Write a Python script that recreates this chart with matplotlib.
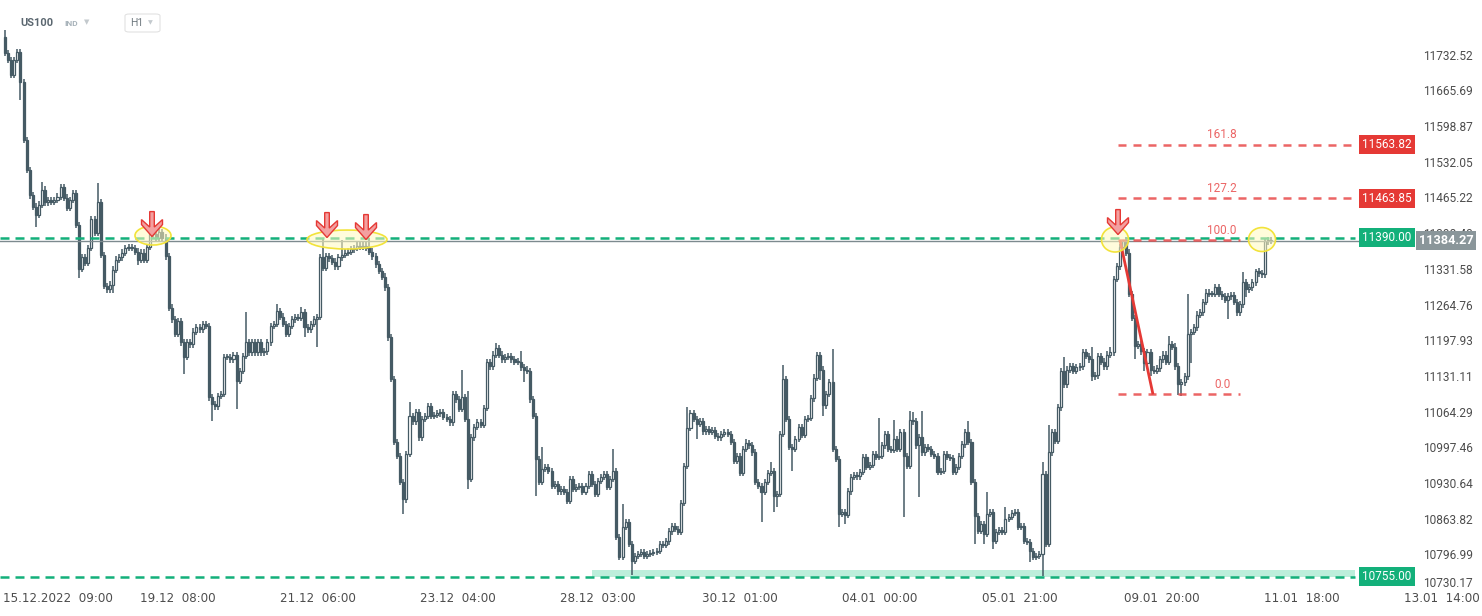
import numpy as np
import matplotlib
matplotlib.use('Agg')
import matplotlib.pyplot as plt
import matplotlib.transforms as mtransforms
from matplotlib.patches import Ellipse, Polygon, Rectangle, FancyBboxPatch

plt.rcParams['font.family'] = ['Roboto', 'DejaVu Sans']

# ---- data (US100, H1) -------------------------------------------------
first_open = 11766
closes = [
    11736, 11723, 11695, 11723, 11738, 11682, 11573, 11517, 11469, 11448,
    11433, 11452, 11480, 11456, 11461, 11457, 11461, 11467, 11485, 11465,
    11446, 11461, 11474, 11414, 11332, 11353, 11343, 11371, 11424, 11399,
    11457, 11358, 11299, 11293, 11302, 11330, 11349, 11353, 11362, 11371,
    11373, 11371, 11364, 11349, 11362, 11349, 11373, 11399, 11396, 11390,
    11401, 11390, 11355, 11259, 11237, 11209, 11233, 11194, 11166, 11194,
    11190, 11214, 11222, 11218, 11228, 11224, 11091, 11078, 11074, 11093,
    11097, 11166, 11166, 11162, 11170, 11121, 11140, 11168, 11194, 11175,
    11194, 11175, 11194, 11175, 11177, 11194, 11224, 11228, 11252, 11242,
    11228, 11209, 11224, 11237, 11241, 11239, 11250, 11222, 11218, 11228,
    11237, 11241, 11353, 11334, 11355, 11351, 11345, 11336, 11353, 11358,
    11362, 11364, 11368, 11371, 11375, 11373, 11375, 11371, 11364, 11355,
    11340, 11327, 11317, 11297, 11203, 11125, 11007, 10981, 10932, 10900,
    10985, 11056, 11046, 11063, 11016, 11050, 11056, 11074, 11056, 11058,
    11061, 11063, 11054, 11050, 11044, 11097, 11087, 11069, 11091, 11050,
    10938, 11016, 11035, 11044, 11039, 11071, 11157, 11149, 11171, 11183,
    11171, 11162, 11166, 11168, 11162, 11158, 11157, 11147, 11143, 11140,
    11087, 11056, 10975, 10932, 10957, 10960, 10953, 10925, 10929, 10915,
    10919, 10914, 10897, 10938, 10919, 10923, 10925, 10914, 10925, 10947,
    10929, 10910, 10934, 10942, 10947, 10923, 10938, 10953, 10829, 10792,
    10848, 10857, 10816, 10785, 10794, 10798, 10801, 10794, 10798, 10800,
    10801, 10803, 10816, 10814, 10821, 10840, 10850, 10844, 10839, 10893,
    10962, 11033, 11061, 11050, 11041, 11046, 11027, 11031, 11026, 11029,
    11018, 11016, 11022, 11026, 11022, 11007, 10972, 10981, 10949, 10994,
    11005, 11001, 10988, 10932, 10925, 10914, 10932, 10949, 10953, 10906,
    10910, 11022, 11125, 11050, 10998, 10994, 11013, 11035, 11020, 11050,
    11052, 11089, 11128, 11170, 11143, 11076, 11097, 11119, 10994, 10975,
    10872, 10876, 10871, 10915, 10942, 10945, 10943, 10951, 10979, 10960,
    10964, 10985, 10979, 10981, 11001, 11022, 10994, 10992, 11013, 10994,
    11026, 10981, 10962, 11048, 11046, 11001, 11016, 10988, 10998, 10994,
    10985, 10981, 10951, 10953, 10985, 10979, 10977, 10951, 10960, 10981,
    11003, 11026, 11007, 10932, 10869, 10841, 10854, 10835, 10872, 10876,
    10822, 10839, 10843, 10839, 10863, 10867, 10874, 10876, 10848, 10850,
    10822, 10820, 10803, 10792, 10794, 10798, 10947, 10816, 10988, 11026,
    11009, 11072, 11140, 11115, 11143, 11149, 11140, 11147, 11149, 11175,
    11168, 11162, 11130, 11132, 11168, 11158, 11149, 11171, 11175, 11312,
    11336, 11373, 11385, 11362, 11284, 11239, 11188, 11190, 11177, 11155,
    11175, 11143, 11140, 11145, 11162, 11171, 11158, 11190, 11186, 11149,
    11115, 11119, 11130, 11209, 11213, 11222, 11246, 11250, 11269, 11287,
    11285, 11284, 11297, 11284, 11280, 11274, 11280, 11282, 11269, 11250,
    11265, 11306, 11293, 11297, 11306, 11327, 11323, 11321, 11383, 11386,
    11384.27,
]
# wick length above / below the body (points), where it differs from usual
typical_wick = 6
wick_up = {0: 13, 12: 15, 30: 36, 47: 9, 50: 11, 78: 56, 88: 13, 96: 11,
           103: 34, 109: 28, 118: 19, 131: 26, 148: 52, 150: 52, 159: 10,
           167: 20, 174: 41, 197: 41, 200: 43, 221: 39, 240: 7, 248: 17,
           252: 26, 268: 62, 283: 71, 288: 36, 293: 17, 294: 15, 297: 49,
           312: 21, 318: 41, 324: 22, 336: 22, 338: 52, 343: 26, 352: 24,
           358: 11, 362: 1, 377: 15, 383: 75, 401: 19, 405: 4, 408: 4}
wick_dn = {5: 34, 10: 24, 24: 17, 35: 15, 43: 11, 58: 32, 67: 32, 75: 52,
           97: 19, 101: 52, 129: 28, 150: 19, 168: 24, 172: 69, 203: 27,
           224: 28, 245: 56, 249: 30, 250: 20, 255: 41, 264: 20, 265: 20,
           270: 24, 272: 17, 291: 114, 296: 97, 314: 52, 317: 19, 320: 15,
           332: 21, 336: 41, 352: 9, 366: 26, 369: 15, 371: 13, 380: 19,
           381: 22, 384: 54, 396: 37, 402: 15, 407: 6}

y_ticks = [11732.52, 11665.69, 11598.87, 11532.05, 11465.22, 11398.40,
           11331.58, 11264.76, 11197.93, 11131.11, 11064.29, 10997.46,
           10930.64, 10863.82, 10796.99, 10730.17]
date_labels = ['15.12.2022  09:00', '19.12  08:00', '21.12  06:00', '23.12  04:00',
               '28.12  03:00', '30.12  01:00', '04.01  00:00', '05.01  21:00',
               '09.01  20:00', '11.01  18:00', '13.01  14:00']
date_idx = [10.3, 55.9, 101.4, 146.7, 192.0, 238.0, 283.3, 328.6, 374.6, 420.0, 465.3]

fib_names = ['0.0', '100.0', '127.2', '161.8']
fib_prices = [11096.41, 11385.30, 11463.85, 11563.82]
resistance = 11390.00
support = 10755.00
last_price = 11384.27

# ---- geometry ---------------------------------------------------------
N = len(closes)
W, H = 1482, 616
step = 1266 / (N - 1)          # pixels per candle
y_top, y_bot = 11835.0, 10732.3
ppx = (y_top - y_bot) / 590    # points per pixel

def px(x):      # pixel column -> candle index
    return (x - 5) / step

dark = '#455a64'
green = '#13b07a'
red = '#e84a4a'

opens = [first_open] + closes[:-1]
o = np.array(opens, float)
c = np.array(closes, float)
highs = np.array([max(o[i], c[i]) + wick_up.get(i, typical_wick) for i in range(N)])
lows = np.array([min(o[i], c[i]) - wick_dn.get(i, typical_wick) for i in range(N)])
idx = np.arange(N)

fig = plt.figure(figsize=(W / 100, H / 100), dpi=100)
ax = fig.add_axes([0, 26 / H, 1415 / W, 590 / H])
ax.set_xlim(px(0), px(1415))
ax.set_ylim(y_bot, y_top)
for s in ax.spines.values():
    s.set_visible(False)

# candles
ax.vlines(idx, lows, highs, color=dark, lw=1.1, zorder=3)
bb = np.minimum(o, c)
bh = np.maximum(np.abs(c - o), 1.8)
up = c >= o
ax.bar(idx[up], bh[up], bottom=bb[up], width=0.66, facecolor='white',
       edgecolor=dark, linewidth=0.9, zorder=4)
ax.bar(idx[~up], bh[~up], bottom=bb[~up], width=0.66, facecolor=dark,
       edgecolor=dark, linewidth=0.9, zorder=4)

# support zone and levels
ax.add_patch(Rectangle((px(592), support - 1), px(1355) - px(592), 13,
                       facecolor='#bdeedb', edgecolor='none', zorder=1))
dash = (0, (3.6, 2.4))
ax.hlines([resistance, support], px(0), px(1355), colors=green, lw=1.8,
          linestyles=[dash], zorder=5)
ax.axhline(last_price, color='#7d8a8f', lw=1.0, zorder=5)

# fibonacci
fib_end = [1240, 1240, 1355, 1355]
for name, p, xe in zip(fib_names, fib_prices, fib_end):
    ax.hlines(p, px(1118), px(xe), colors=red, lw=1.8, alpha=0.85,
              linestyles=[(0, (3.2, 2.8))], zorder=6)
    ax.text(px(1222), p + 10 * ppx, name, color=red, fontsize=8.5,
            ha='center', va='center', alpha=0.85, zorder=7)
ax.plot([px(1120), px(1153)], [fib_prices[1], fib_prices[0]], color='#e53935',
        lw=2, zorder=7, solid_capstyle='butt')

# yellow highlights
for cx, cy, w, h in [(153, 236, 36, 19), (347, 240, 80, 19),
                     (1115, 240, 27, 25), (1262, 240, 27, 24)]:
    ax.add_patch(Ellipse((px(cx), y_top - cy * ppx), w / step, h * ppx,
                         facecolor=(1, 0.98, 0.75, 0.55), edgecolor='#f2e33a',
                         lw=1.2, zorder=8))

# red arrows
shape = [(0, 0), (10.5, 12), (10.5, 17), (2.3, 9.5), (2.3, 25), (-2.3, 25),
         (-2.3, 9.5), (-10.5, 17), (-10.5, 12)]
for ax_px, tip_px in [(152, 237), (327, 238), (366, 240), (1118, 235)]:
    pts = [(px(ax_px) + dx / step, y_top - (tip_px - dy) * ppx) for dx, dy in shape]
    ax.add_patch(Polygon(pts, closed=True, facecolor='#f3a0a0',
                         edgecolor='#e53935', lw=1.0, zorder=9))

# price tags
def tag(price, text, color):
    ax.text(px(1387), price, text, color='white', fontsize=8.5, ha='center',
            va='center', zorder=10, clip_on=False,
            bbox=dict(boxstyle='square,pad=0.25', facecolor=color, edgecolor='none'))

tag(fib_prices[3], '%.2f' % fib_prices[3], '#e53935')
tag(fib_prices[2], '%.2f' % fib_prices[2], '#e53935')
tag(resistance, '%.2f' % resistance, green)
tag(support, '%.2f' % support, green)

# y axis
ax.yaxis.tick_right()
ax.set_yticks(y_ticks)
ax.set_yticklabels(['%.2f' % v for v in y_ticks], fontsize=8.6, color='#4d4d4d')
ax.tick_params(axis='y', length=0, pad=6)
ax.get_yticklabels()[-1].set_va('bottom')
ax.set_xticks([])

ax.text(px(1446), last_price, '%.2f' % last_price, color='white', fontsize=9.2,
        fontweight='bold', ha='center', va='center', zorder=12, clip_on=False,
        bbox=dict(boxstyle='square,pad=0.22', facecolor='#8a969a', edgecolor='none'))

# x labels
trans = mtransforms.blended_transform_factory(ax.transData, ax.transAxes)
for k, (lab, xi) in enumerate(zip(date_labels, date_idx)):
    if k == 0:
        xi, ha = px(3), 'left'
    else:
        ha = 'center'
    ax.text(xi, -9 / 590, lab, transform=trans, ha=ha, va='center',
            fontsize=8.6, color='#4d4d4d', clip_on=False,
            family=['Liberation Sans Narrow', 'DejaVu Sans'])

# header
fig.text(20 / W, 1 - 23 / H, 'US100', fontsize=8, fontweight='bold',
         color='#5b6770', va='center')
fig.text(64 / W, 1 - 24 / H, 'IND', fontsize=6, fontweight='bold',
         color='#a8b3ba', va='center')
fig.text(84 / W, 1 - 22 / H, '\u25bc', fontsize=5, color='#c3c9cd', va='center',
         family=['DejaVu Sans'])
fig.patches.append(FancyBboxPatch((125 / W, 1 - 32 / H), 35 / W, 18 / H,
                                  boxstyle='round,pad=0,rounding_size=0.003',
                                  transform=fig.transFigure, facecolor='white',
                                  edgecolor='#e2e2e2', lw=0.8))
fig.text(130 / W, 1 - 23 / H, 'H1', fontsize=7.5, color='#707a80', va='center')
fig.text(148 / W, 1 - 23 / H, '\u25bc', fontsize=4.5, color='#c3c9cd', va='center',
         family=['DejaVu Sans'])

fig.savefig('out.png', dpi=100)
